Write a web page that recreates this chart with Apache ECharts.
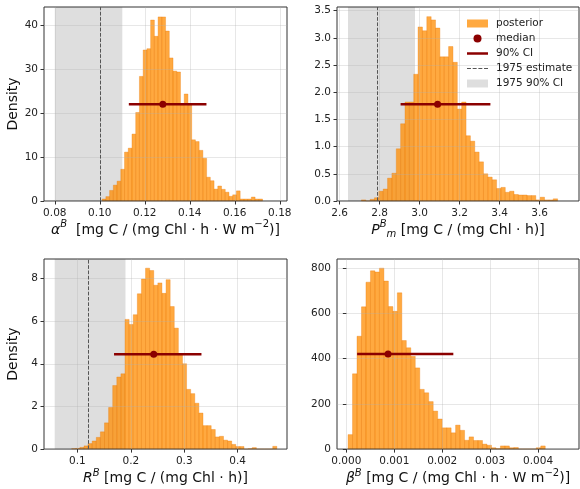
<!DOCTYPE html>
<html><head><meta charset="utf-8">
<script src="https://cdn.jsdelivr.net/npm/echarts@6/dist/echarts.min.js"></script>
<style>html,body{margin:0;padding:0;background:#fff}#c{width:580px;height:489px}</style>
</head><body><div id="c"></div>
<script>
// ---- alpha^B panel ----
const alphaBinStart = 0.10104, alphaBinWidth = 0.001658;
const alphaDensity = [0.45,1.0,2.4,3.6,4.5,7.2,11.1,12.0,15.2,20.1,28.3,34.3,34.6,41.1,37.4,41.8,41.8,38.6,32.5,29.5,29.3,21.8,24.3,21.8,13.9,13.5,11.5,9.7,5.4,4.6,2.7,3.4,2.65,2.0,1.06,1.4,2.3,0.45,0.45,0.45,0.9,0.45,0.45];
const alphaMedian = 0.128, alphaCI = [0.1129, 0.1474], alphaCIy = 22.0;
const alpha1975 = 0.10, alpha1975CI = [0.08, 0.110];
const alphaXTicks = [0.08,0.10,0.12,0.14,0.16,0.18];
const alphaYTicks = [0,10,20,30,40];

// ---- P_m^B panel ----
const pmBinStart = 2.709, pmBinWidth = 0.0218;
const pmDensity = [0.02,0,0.03,0.06,0.18,0.22,0.42,0.51,0.96,1.42,1.82,1.82,2.33,3.2,3.13,3.39,3.33,3.18,2.65,2.65,2.84,2.55,1.69,1.82,1.2,1.1,0.9,0.72,0.5,0.44,0.39,0.23,0.25,0.16,0.18,0.12,0.11,0.11,0.10,0.10,0.02,0.07,0.02,0.02,0.04];
const pmMedian = 3.09, pmCI = [2.905, 3.354], pmCIy = 1.78;
const pm1975 = 2.795, pm1975CI = [2.642, 2.977];
const pmXTicks = [2.6,2.8,3.0,3.2,3.4,3.6];
const pmYTicks = [0,0.5,1.0,1.5,2.0,2.5,3.0,3.5];

// ---- R^B panel ----
const rBinStart = 0.0893, rBinWidth = 0.00768;
const rDensity = [0.02,0.03,0.08,0.15,0.26,0.38,0.55,0.81,1.23,1.95,2.98,3.38,3.53,6.08,5.84,6.3,7.28,7.97,8.48,8.37,7.68,7.79,7.3,7.94,6.68,5.67,4.45,4.0,2.8,2.6,2.15,1.69,1.1,1.1,0.92,0.57,0.6,0.42,0.38,0.22,0.12,0.12,0,0.02,0.07,0,0,0,0,0.13];
const rMedian = 0.2429, rCI = [0.1686, 0.3322], rCIy = 4.45;
const r1975 = 0.1187, r1975CI = [0.0575, 0.19];
const rXTicks = [0.1,0.2,0.3,0.4];
const rYTicks = [0,2,4,6,8];

// ---- beta^B panel ----
const betaBinStart = 0.0000356, betaBinWidth = 0.0000935;
const betaDensity = [64,333,499,629,738,788,783,800,743,630,609,691,480,448,410,359,264,249,210,168,133,94,94,72,106,83,39,54,38,38,22,17,6,2,14,14,6,7,0,0,0,0,6,14];
const betaMedian = 0.000870, betaCI = [0.000225, 0.002232], betaCIy = 420;
const betaXTicks = [0.000,0.001,0.002,0.003,0.004];
const betaYTicks = [0,200,400,600,800];

const FONT = 'DejaVu Sans';
const ORANGE = 'rgba(255,140,0,0.75)';
const DARKRED = '#8b0000';
const GREY = '#dedede';
const DASHC = '#555';
const DASH = [3.7, 1.6];

const panels = [
  {grid:{left:44, top:7, width:243, height:194}, xmin:0.0752, xmax:0.1832, ymax:44.06, ydec:0,
   xticks:alphaXTicks, yticks:alphaYTicks, xdec:2, start:alphaBinStart, w:alphaBinWidth, dens:alphaDensity,
   med:alphaMedian, ci:alphaCI, ciy:alphaCIy, est:alpha1975, estCI:alpha1975CI, ylabel:true, nameGap:13,
   name:'{it|α}{supi|B}  [mg C / (mg Chl · h · W m{sup|−2})]'},
  {grid:{left:337, top:7, width:242, height:194}, xmin:2.587, xmax:3.797, ymax:3.567, ydec:1,
   xticks:pmXTicks, yticks:pmYTicks, xdec:1, start:pmBinStart, w:pmBinWidth, dens:pmDensity,
   med:pmMedian, ci:pmCI, ciy:pmCIy, est:pm1975, estCI:pm1975CI, ylabel:false, nameGap:13,
   name:'{it|P}{supi|B}{sub|m} [mg C / (mg Chl · h)]'},
  {grid:{left:44, top:259, width:243, height:193}, xmin:0.0375, xmax:0.4923, ymax:8.91, ydec:0,
   xticks:rXTicks, yticks:rYTicks, xdec:1, start:rBinStart, w:rBinWidth, dens:rDensity,
   med:rMedian, ci:rCI, ciy:rCIy, est:r1975, estCI:r1975CI, ylabel:true, nameGap:16,
   name:'{it|R}{supi|B} [mg C / (mg Chl · h)]'},
  {grid:{left:337, top:259, width:242, height:193}, xmin:-0.000195, xmax:0.004854, ymax:840.5, ydec:0,
   xticks:betaXTicks, yticks:betaYTicks, xdec:3, start:betaBinStart, w:betaBinWidth, dens:betaDensity,
   med:betaMedian, ci:betaCI, ciy:betaCIy, est:null, estCI:null, ylabel:false, nameGap:16,
   name:'{it|β}{supi|B} [mg C / (mg Chl · h · W m{sup|−2})]'}
];

const rich = {
  it:{fontFamily:FONT, fontSize:14, fontStyle:'italic', color:'#111', lineHeight:20},
  supi:{fontFamily:FONT, fontSize:10, fontStyle:'italic', color:'#111', verticalAlign:'top', lineHeight:10},
  sup:{fontFamily:FONT, fontSize:10, color:'#111', verticalAlign:'top', lineHeight:10},
  sub:{fontFamily:FONT, fontSize:10, fontStyle:'italic', color:'#111', verticalAlign:'bottom', lineHeight:10}
};

const grids = [], xAxes = [], yAxes = [], series = [];
panels.forEach((p, i) => {
  grids.push(Object.assign({show:true, borderColor:'#333', borderWidth:1, backgroundColor:'transparent', z:3}, p.grid));
  xAxes.push({type:'value', gridIndex:i, min:p.xmin, max:p.xmax, z:3,
    axisLine:{show:false},
    axisTick:{show:true, length:3.5, lineStyle:{color:'#333'}, customValues:p.xticks},
    axisLabel:{customValues:p.xticks, formatter:v=>v.toFixed(p.xdec), fontFamily:FONT, fontSize:10.5, color:'#222', margin:7},
    splitLine:{show:true, lineStyle:{color:'rgba(176,176,176,0.3)', width:1}},
    name:p.name, nameLocation:'middle', nameGap:p.nameGap,
    nameTextStyle:{fontFamily:FONT, fontSize:14, color:'#111', lineHeight:20, rich:rich}});
  yAxes.push({type:'value', gridIndex:i, min:0, max:p.ymax, z:3,
    axisLine:{show:false},
    axisTick:{show:true, length:3.5, lineStyle:{color:'#333'}, customValues:p.yticks},
    axisLabel:{customValues:p.yticks, formatter:v=>v.toFixed(p.ydec), fontFamily:FONT, fontSize:10.5, color:'#222', margin:6},
    splitLine:{show:true, lineStyle:{color:'rgba(176,176,176,0.3)', width:1}},
    name:p.ylabel ? 'Density' : '', nameLocation:'middle', nameGap:24,
    nameTextStyle:{fontFamily:FONT, fontSize:14, color:'#111'}});

  if (p.estCI) {
    series.push({type:'line', name:'1975 90% CI', xAxisIndex:i, yAxisIndex:i, data:[], z:1,
      itemStyle:{color:GREY},
      markArea:{silent:true, itemStyle:{color:GREY}, data:[[{xAxis:p.estCI[0]},{xAxis:p.estCI[1]}]]}});
  }
  const hist = p.dens.map((h, k) => [p.start + k*p.w, p.start + (k+1)*p.w, h]);
  series.push({type:'custom', name:'posterior', xAxisIndex:i, yAxisIndex:i, z:2,
    itemStyle:{color:ORANGE},
    encode:{x:[0,1], y:2},
    data:hist,
    renderItem:(params, api) => {
      const a = api.coord([api.value(0), api.value(2)]);
      const b = api.coord([api.value(1), 0]);
      return {type:'rect', shape:{x:a[0], y:a[1], width:b[0]-a[0], height:b[1]-a[1]},
        style:{fill:ORANGE, stroke:'rgba(235,120,0,0.55)', lineWidth:0.6}};
    }});
  if (p.est !== null) {
    series.push({type:'line', name:'1975 estimate', xAxisIndex:i, yAxisIndex:i, data:[], z:4,
      symbol:'none', lineStyle:{type:DASH, color:DASHC, width:1}, itemStyle:{color:DASHC},
      markLine:{silent:true, symbol:['none','none'], label:{show:false},
        lineStyle:{type:DASH, color:DASHC, width:1}, data:[{xAxis:p.est}]}});
  }
  series.push({type:'line', name:'90% CI', xAxisIndex:i, yAxisIndex:i, z:4,
    data:[[p.ci[0], p.ciy],[p.ci[1], p.ciy]], symbol:'none',
    lineStyle:{color:DARKRED, width:2.5}, itemStyle:{color:DARKRED}});
  series.push({type:'scatter', name:'median', xAxisIndex:i, yAxisIndex:i, z:5,
    data:[[p.med, p.ciy]], symbolSize:7, itemStyle:{color:DARKRED, opacity:1}});
});

const chart = echarts.init(document.getElementById('c'), null, {renderer:'canvas'});
chart.setOption({
  animation:false,
  backgroundColor:'#fff',
  grid:grids, xAxis:xAxes, yAxis:yAxes, series:series,
  legend:{orient:'vertical', left:467, top:18, padding:0, itemWidth:21, itemHeight:8, itemGap:4,
    selectedMode:false,
    textStyle:{fontFamily:FONT, fontSize:10.5, color:'#222', padding:[0,0,0,3]},
    data:[
      {name:'posterior', icon:'rect', itemStyle:{color:ORANGE}},
      {name:'median', icon:'circle', itemStyle:{color:DARKRED}},
      {name:'90% CI', icon:'path://M0,0H21V2.5H0Z', itemStyle:{color:DARKRED}},
      {name:'1975 estimate', icon:'path://M0,0H3.7V1H0Z M5.3,0H9V1H5.3Z M10.6,0H14.3V1H10.6Z M15.9,0H19.6V1H15.9Z', itemStyle:{color:DASHC}},
      {name:'1975 90% CI', icon:'rect', itemStyle:{color:GREY}}
    ]}
});
</script></body></html>
